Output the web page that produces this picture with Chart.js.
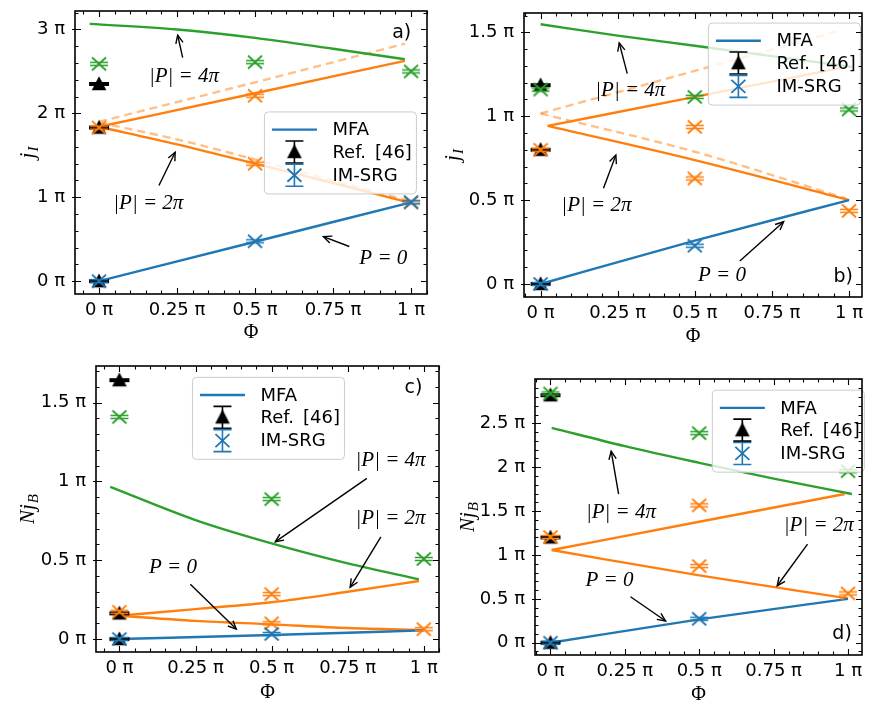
<!DOCTYPE html>
<html><head><meta charset="utf-8">
<script src="https://cdn.jsdelivr.net/npm/chart.js@4.4.0/dist/chart.umd.min.js"></script>
<style>
html,body{margin:0;padding:0;background:#fff;}
#wrap{position:relative;width:873px;height:704px;overflow:hidden;background:#fff;}
canvas{position:absolute;}
</style></head><body>
<div id="wrap">
<canvas id="pa" width="440" height="350" style="left:0px;top:0px"></canvas>
<canvas id="pb" width="433" height="350" style="left:440px;top:0px"></canvas>
<canvas id="pc" width="450" height="354" style="left:0px;top:350px"></canvas>
<canvas id="pd" width="423" height="354" style="left:450px;top:350px"></canvas>
</div>
<script>
// ---------- tick values / labels (units of pi) ----------
const xTickValues=[0,0.25,0.5,0.75,1];
const xTickLabels=['0 π','0.25 π','0.5 π','0.75 π','1 π'];
const aYTickValues=[0,1,2,3];
const aYTickLabels=['0 π','1 π','2 π','3 π'];
const bYTickValues=[0,0.5,1,1.5];
const bYTickLabels=['0 π','0.5 π','1 π','1.5 π'];
const cYTickValues=[0,0.5,1,1.5];
const cYTickLabels=['0 π','0.5 π','1 π','1.5 π'];
const dYTickValues=[0,0.5,1,1.5,2,2.5];
const dYTickLabels=['0 π','0.5 π','1 π','1.5 π','2 π','2.5 π'];
const legendLabels=['MFA','Ref.\u2002[46]','IM-SRG'];

// ---------- panel a: j_I ----------
const aP0X=[0,0.5,1.0], aP0Y=[0,0.47,0.94];
const aP2UpX=[0,0.5,0.98], aP2UpY=[1.84,2.24,2.625];
const aP2DnX=[0,0.25,0.5,0.75,1.0], aP2DnY=[1.84,1.63,1.40,1.17,0.93];
const aP2UpDashX=[0,0.5,0.98], aP2UpDashY=[1.90,2.37,2.83];
const aP2DnDashX=[0,0.25,0.5,0.75,1.0], aP2DnDashY=[1.89,1.69,1.45,1.20,0.95];
const aP4X=[-0.03,0.25,0.5,0.75,0.98], aP4Y=[3.066,3.0,2.90,2.77,2.645];
const aRefX=[0,0,0], aRefY=[2.35,1.83,0];
const aSrgP0X=[0,0.5,1], aSrgP0Y=[0,0.475,0.94];
const aSrgP2X=[0,0.5,0.5,1], aSrgP2Y=[1.83,2.21,1.40,0.94];
const aSrgP4X=[0,0.5,1], aSrgP4Y=[2.59,2.61,2.50];

// ---------- panel b: j_I ----------
const bP0X=[0,0.5,1.0], bP0Y=[0,0.258,0.5];
const bP2UpX=[0.023,0.5,0.98], bP2UpY=[0.942,1.115,1.29];
const bP2DnX=[0.023,0.5,1.0], bP2DnY=[0.942,0.738,0.5];
const bP2UpDashX=[0,0.5,0.976], bP2UpDashY=[1.016,1.27,1.512];
const bP2DnDashX=[0,0.5,0.99], bP2DnDashY=[1.016,0.788,0.51];
const bP4X=[0,0.25,0.5,1.01], bP4Y=[1.548,1.48,1.42,1.293];
const bRefX=[0,0,0], bRefY=[1.185,0.80,0];
const bSrgP0X=[0,0.5], bSrgP0Y=[0,0.228];
const bSrgP2X=[0,0.5,0.5,1], bSrgP2Y=[0.80,0.936,0.629,0.436];
const bSrgP4X=[0,0.5,1], bSrgP4Y=[1.159,1.115,1.04];

// ---------- panel c: N j_B ----------
const cP0X=[0,0.5,1.0], cP0Y=[0,0.025,0.055];
const cP2UpX=[0,0.25,0.5,0.75,0.984], cP2UpY=[0.148,0.19,0.233,0.30,0.368];
const cP2DnX=[0,0.25,0.5,0.75,1.0], cP2DnY=[0.148,0.115,0.093,0.07,0.057];
const cP4X=[-0.03,0.25,0.5,0.75,0.984], cP4Y=[0.966,0.755,0.607,0.48,0.379];
const cRefX=[0,0,0], cRefY=[1.643,0.163,0];
const cSrgP0X=[0,0.5], cSrgP0Y=[0,0.032];
const cSrgP2X=[0,0.5,0.5,1], cSrgP2Y=[0.173,0.285,0.10,0.062];
const cSrgP4X=[0,0.5,1], cSrgP4Y=[1.41,0.888,0.508];

// ---------- panel d: N j_B ----------
const dP0X=[0,0.5,1.0], dP0Y=[0,0.266,0.5];
const dP2UpX=[0.004,0.5,0.989], dP2UpY=[1.056,1.378,1.694];
const dP2DnX=[0.004,0.5,1.0], dP2DnY=[1.056,0.767,0.505];
const dP4X=[0.004,0.25,0.5,0.75,1.013], dP4Y=[2.449,2.24,2.05,1.87,1.694];
const dRefX=[0,0,0], dRefY=[2.82,1.2,0];
const dSrgP0X=[0,0.5], dSrgP0Y=[0,0.273];
const dSrgP2X=[0,0.5,0.5,1], dSrgP2Y=[1.205,1.565,0.873,0.562];
const dSrgP4X=[0,0.5,1], dSrgP4Y=[2.84,2.388,1.955];

// ---------- styles ----------
const C_BLUE='#1f77b4', C_ORANGE='#ff7f0e', C_GREEN='#2ca02c', C_DASH='rgba(255,127,14,0.5)';
const TICK_FONT={family:'DejaVu Sans', size:18};
const SERIF_IT='italic 21px "Liberation Serif", "DejaVu Serif", serif';

function P(xs,ys){return xs.map((x,i)=>({x:x,y:ys[i]}));}

function srgMarker(color){
  const c=document.createElement('canvas'); c.width=24; c.height=24;
  const g=c.getContext('2d'); const m=12;
  g.strokeStyle=color; g.lineWidth=1.8;
  g.beginPath(); g.moveTo(m-7,m-6.5); g.lineTo(m+7,m+6.5); g.moveTo(m+7,m-6.5); g.lineTo(m-7,m+6.5); g.stroke();
  g.lineWidth=1.5; g.beginPath();
  g.moveTo(m-9,m-1.6); g.lineTo(m+9,m-1.6); g.moveTo(m-9,m+1.6); g.lineTo(m+9,m+1.6); g.stroke();
  return c;
}
function refMarker(){
  const c=document.createElement('canvas'); c.width=24; c.height=24;
  const g=c.getContext('2d'); const m=12;
  g.fillStyle='#000';
  g.beginPath(); g.moveTo(m,m-7.7); g.lineTo(m+7.3,m+6.3); g.lineTo(m-7.3,m+6.3); g.closePath(); g.fill();
  g.fillRect(m-10,m-2,20,4);
  return c;
}
function triOnly(){
  const c=document.createElement('canvas'); c.width=24; c.height=24;
  const g=c.getContext('2d'); const m=12;
  g.fillStyle='#000';
  g.beginPath(); g.moveTo(m,m-7.7); g.lineTo(m+7.3,m+6.3); g.lineTo(m-7.3,m+6.3); g.closePath(); g.fill();
  return c;
}
const MK={blue:srgMarker(C_BLUE),orange:srgMarker(C_ORANGE),green:srgMarker(C_GREEN),ref:refMarker(),tri:triOnly()};

function lineDS(xs,ys,color,order,dash){
  return {type:'line',data:P(xs,ys),borderColor:color,borderWidth:2.4,borderDash:dash||[],
    pointRadius:0,pointHoverRadius:0,fill:false,cubicInterpolationMode:'monotone',order:order};
}
function markDS(xs,ys,img,order){
  return {type:'line',data:P(xs,ys),showLine:false,pointStyle:img,pointRadius:10,pointHoverRadius:10,
    borderColor:'rgba(0,0,0,0)',backgroundColor:'rgba(0,0,0,0)',order:order};
}

const panels={
  pa:{cw:440,ch:350,L:75,T:8,R:427,B:294,xMin:-0.077,xMax:1.051,yMin:-0.153,yMax:3.22,
    yTicks:aYTickValues,yLabels:aYTickLabels,yMinor:0.2,ylab:['j','I'],ylabX:-47,xlabY:39,
    tag:{t:'a)',x:0.970,y:2.96}, legend:{x:0.530,y:2.017},
    ann:[{t:'|P| = 4π',tx:0.272,ty:2.44,x1:0.268,y1:2.665,x2:0.252,y2:2.933},
         {t:'|P| = 2π',tx:0.158,ty:0.928,x1:0.192,y1:1.14,x2:0.244,y2:1.537},
         {t:'P = 0',tx:0.911,ty:0.268,x1:0.802,y1:0.413,x2:0.719,y2:0.531}],
    datasets:[
      markDS(aSrgP0X,aSrgP0Y,MK.blue,0), markDS(aSrgP2X,aSrgP2Y,MK.orange,0), markDS(aSrgP4X,aSrgP4Y,MK.green,0),
      markDS(aRefX,aRefY,MK.ref,1),
      lineDS(aP0X,aP0Y,C_BLUE,2), lineDS(aP2UpX,aP2UpY,C_ORANGE,2), lineDS(aP2DnX,aP2DnY,C_ORANGE,2), lineDS(aP4X,aP4Y,C_GREEN,2),
      lineDS(aP2UpDashX,aP2UpDashY,C_DASH,3,[8,5]), lineDS(aP2DnDashX,aP2DnDashY,C_DASH,3,[8,5])
    ]},
  pb:{cw:433,ch:350,L:84,T:13,R:431,B:297,xMin:-0.0537,xMax:1.042,yMin:-0.0775,yMax:1.615,
    yTicks:bYTickValues,yLabels:bYTickLabels,yMinor:0.1,ylab:['j','I'],ylabX:-71,xlabY:40,
    tag:{t:'b)',x:0.981,y:0.043}, legend:{x:0.544,y:1.555},
    ann:[{t:'|P| = 4π',tx:0.291,ty:1.151,x1:0.281,y1:1.254,x2:0.255,y2:1.437},
         {t:'|P| = 2π',tx:0.181,ty:0.466,x1:0.204,y1:0.57,x2:0.244,y2:0.768},
         {t:'P = 0',tx:0.588,ty:0.048,x1:0.646,y1:0.137,x2:0.788,y2:0.371}],
    datasets:[
      markDS(bSrgP0X,bSrgP0Y,MK.blue,0), markDS(bSrgP2X,bSrgP2Y,MK.orange,0), markDS(bSrgP4X,bSrgP4Y,MK.green,0),
      markDS(bRefX,bRefY,MK.ref,1),
      lineDS(bP0X,bP0Y,C_BLUE,2), lineDS(bP2UpX,bP2UpY,C_ORANGE,2), lineDS(bP2DnX,bP2DnY,C_ORANGE,2), lineDS(bP4X,bP4Y,C_GREEN,2),
      lineDS(bP2UpDashX,bP2UpDashY,C_DASH,3,[8,5]), lineDS(bP2DnDashX,bP2DnDashY,C_DASH,3,[8,5])
    ]},
  pc:{cw:450,ch:354,L:96,T:16,R:448,B:302,xMin:-0.0769,xMax:1.050,yMin:-0.0825,yMax:1.733,
    yTicks:cYTickValues,yLabels:cYTickLabels,yMinor:0.1,ylab:['Nj','B'],ylabX:-68,xlabY:41,
    tag:{t:'c)',x:0.966,y:1.591}, legend:{x:0.240,y:1.661},
    ann:[{t:'|P| = 4π',tx:0.891,ty:1.131,x1:0.813,y1:1.02,x2:0.512,y2:0.617},
         {t:'|P| = 2π',tx:0.891,ty:0.766,x1:0.859,y1:0.649,x2:0.758,y2:0.328},
         {t:'P = 0',tx:0.176,ty:0.452,x1:0.233,y1:0.347,x2:0.384,y2:0.063}],
    datasets:[
      markDS(cSrgP0X,cSrgP0Y,MK.blue,0), markDS(cSrgP2X,cSrgP2Y,MK.orange,0), markDS(cSrgP4X,cSrgP4Y,MK.green,0),
      markDS(cRefX,cRefY,MK.ref,1),
      lineDS(cP0X,cP0Y,C_BLUE,2), lineDS(cP2UpX,cP2UpY,C_ORANGE,2), lineDS(cP2DnX,cP2DnY,C_ORANGE,2), lineDS(cP4X,cP4Y,C_GREEN,2)
    ]},
  pd:{cw:423,ch:354,L:85,T:29,R:421,B:305,xMin:-0.052,xMax:1.047,yMin:-0.14,yMax:3.005,
    yTicks:dYTickValues,yLabels:dYTickLabels,yMinor:0.1,ylab:['Nj','B'],ylabX:-67,xlabY:40,
    tag:{t:'d)',x:0.980,y:0.099}, legend:{x:0.544,y:2.878},
    ann:[{t:'|P| = 4π',tx:0.237,ty:1.485,x1:0.229,y1:1.694,x2:0.204,y2:2.183},
         {t:'|P| = 2π',tx:0.902,ty:1.34,x1:0.864,y1:1.124,x2:0.762,y2:0.649},
         {t:'P = 0',tx:0.198,ty:0.714,x1:0.269,y1:0.524,x2:0.387,y2:0.247}],
    datasets:[
      markDS(dSrgP0X,dSrgP0Y,MK.blue,0), markDS(dSrgP2X,dSrgP2Y,MK.orange,0), markDS(dSrgP4X,dSrgP4Y,MK.green,0),
      markDS(dRefX,dRefY,MK.ref,1),
      lineDS(dP0X,dP0Y,C_BLUE,2), lineDS(dP2UpX,dP2UpY,C_ORANGE,2), lineDS(dP2DnX,dP2DnY,C_ORANGE,2), lineDS(dP4X,dP4Y,C_GREEN,2)
    ]}
};

function arrow(ctx,x1,y1,x2,y2){
  ctx.beginPath(); ctx.moveTo(x1,y1); ctx.lineTo(x2,y2); ctx.stroke();
  const ang=Math.atan2(y2-y1,x2-x1), L=9, w=0.42;
  ctx.beginPath();
  ctx.moveTo(x2-L*Math.cos(ang-w),y2-L*Math.sin(ang-w));
  ctx.lineTo(x2,y2);
  ctx.lineTo(x2-L*Math.cos(ang+w),y2-L*Math.sin(ang+w));
  ctx.stroke();
}
function rrect(ctx,x,y,w,h,r){
  ctx.beginPath(); ctx.moveTo(x+r,y); ctx.lineTo(x+w-r,y); ctx.quadraticCurveTo(x+w,y,x+w,y+r);
  ctx.lineTo(x+w,y+h-r); ctx.quadraticCurveTo(x+w,y+h,x+w-r,y+h); ctx.lineTo(x+r,y+h);
  ctx.quadraticCurveTo(x,y+h,x,y+h-r); ctx.lineTo(x,y+r); ctx.quadraticCurveTo(x,y,x+r,y); ctx.closePath();
}
function errHandle(ctx,cx,cy,color){
  ctx.strokeStyle=color; ctx.lineWidth=1.6;
  ctx.beginPath(); ctx.moveTo(cx,cy-11); ctx.lineTo(cx,cy+11);
  ctx.moveTo(cx-9,cy-11); ctx.lineTo(cx+9,cy-11);
  ctx.moveTo(cx-9,cy+11); ctx.lineTo(cx+9,cy+11); ctx.stroke();
}

const panelPlugin={
  id:'panel',
  afterDatasetsDraw(chart){
    const o=panels[chart.canvas.id]; const ctx=chart.ctx;
    const xs=chart.scales.x, ys=chart.scales.y, a=chart.chartArea;
    ctx.save();
    ctx.strokeStyle='#000'; ctx.fillStyle='#000'; ctx.lineWidth=1.4;
    o.ann.forEach(n=>{
      arrow(ctx,xs.getPixelForValue(n.x1),ys.getPixelForValue(n.y1),xs.getPixelForValue(n.x2),ys.getPixelForValue(n.y2));
      ctx.font=SERIF_IT; ctx.textAlign='center'; ctx.textBaseline='middle';
      ctx.fillText(n.t,xs.getPixelForValue(n.tx),ys.getPixelForValue(n.ty));
    });
    ctx.font='19px "DejaVu Sans", sans-serif'; ctx.textAlign='center'; ctx.textBaseline='middle';
    ctx.fillText(o.tag.t,xs.getPixelForValue(o.tag.x),ys.getPixelForValue(o.tag.y));
    const x0=xs.getPixelForValue(o.legend.x), y0=ys.getPixelForValue(o.legend.y), w=152, h=82;
    rrect(ctx,x0,y0,w,h,4); ctx.fillStyle='rgba(255,255,255,0.8)'; ctx.fill();
    ctx.strokeStyle='#cccccc'; ctx.lineWidth=1; ctx.stroke();
    const hx=x0+30, rows=[y0+17.7,y0+40,y0+63.3];
    ctx.strokeStyle=C_BLUE; ctx.lineWidth=2.4;
    ctx.beginPath(); ctx.moveTo(hx-22.5,rows[0]); ctx.lineTo(hx+22.5,rows[0]); ctx.stroke();
    errHandle(ctx,hx,rows[1],'#000'); ctx.drawImage(MK.tri,hx-12,rows[1]-12);
    errHandle(ctx,hx,rows[2],C_BLUE);
    ctx.strokeStyle=C_BLUE; ctx.lineWidth=1.8; ctx.beginPath();
    ctx.moveTo(hx-7,rows[2]-6.5); ctx.lineTo(hx+7,rows[2]+6.5); ctx.moveTo(hx+7,rows[2]-6.5); ctx.lineTo(hx-7,rows[2]+6.5); ctx.stroke();
    ctx.fillStyle='#000'; ctx.font='18px "DejaVu Sans", sans-serif'; ctx.textAlign='left'; ctx.textBaseline='middle';
    legendLabels.forEach((t,i)=>ctx.fillText(t,x0+68,rows[i]+1));
    ctx.restore();
  },
  afterDraw(chart){
    const o=panels[chart.canvas.id]; const ctx=chart.ctx;
    const xs=chart.scales.x, ys=chart.scales.y, a=chart.chartArea;
    ctx.save();
    ctx.strokeStyle='#000'; ctx.lineWidth=1.1;
    const eps=1e-6;
    const isMaj=(v,arr)=>arr.some(t=>Math.abs(t-v)<eps);
    ctx.beginPath();
    for(let k=Math.ceil(xs.min/0.05-eps);k*0.05<=xs.max+eps;k++){
      const v=k*0.05, p=Math.round(xs.getPixelForValue(v))+0.5, L=isMaj(v,xTickValues)?6:3.5;
      ctx.moveTo(p,a.bottom); ctx.lineTo(p,a.bottom-L);
      ctx.moveTo(p,a.top); ctx.lineTo(p,a.top+L);
    }
    for(let k=Math.ceil(ys.min/o.yMinor-eps);k*o.yMinor<=ys.max+eps;k++){
      const v=k*o.yMinor, p=Math.round(ys.getPixelForValue(v))+0.5, maj=isMaj(v,o.yTicks), L=maj?6:3.5;
      ctx.moveTo(a.left-(maj?3:0),p); ctx.lineTo(a.left+L,p);
      ctx.moveTo(a.right,p); ctx.lineTo(a.right-L,p);
    }
    ctx.stroke();
    ctx.lineWidth=1.6; ctx.strokeRect(a.left,a.top,a.right-a.left,a.bottom-a.top);
    ctx.fillStyle='#000';
    ctx.font='20px "Liberation Serif", "DejaVu Serif", serif'; ctx.textAlign='center'; ctx.textBaseline='middle';
    ctx.fillText('Φ',(a.left+a.right)/2,a.bottom+o.xlabY);
    ctx.translate(a.left+o.ylabX,(a.top+a.bottom)/2); ctx.rotate(-Math.PI/2);
    ctx.font=SERIF_IT; const m=ctx.measureText(o.ylab[0]).width;
    ctx.font='italic 15px "Liberation Serif", "DejaVu Serif", serif'; const s=ctx.measureText(o.ylab[1]).width;
    const st=-(m+s+1)/2;
    ctx.textAlign='left'; ctx.textBaseline='alphabetic';
    ctx.font=SERIF_IT; ctx.fillText(o.ylab[0],st,6);
    ctx.font='italic 15px "Liberation Serif", "DejaVu Serif", serif'; ctx.fillText(o.ylab[1],st+m+1,10);
    ctx.restore();
  }
};

function zeroPad(s){s.paddingTop=0;s.paddingBottom=0;s.paddingLeft=0;s.paddingRight=0;}

function build(id){
  const cfg=panels[id];
  return new Chart(document.getElementById(id),{
    type:'line',
    data:{datasets:cfg.datasets},
    options:{
      responsive:false, animation:false, devicePixelRatio:1, events:[],
      layout:{padding:{top:cfg.T,right:cfg.cw-cfg.R,left:0,bottom:0}},
      plugins:{legend:{display:false},tooltip:{enabled:false}},
      scales:{
        x:{type:'linear',bounds:'data',min:cfg.xMin,max:cfg.xMax,
          afterBuildTicks:s=>{s.ticks=xTickValues.map(v=>({value:v}));},
          afterFit:s=>{s.height=cfg.ch-cfg.B; zeroPad(s);},
          grid:{display:false,drawTicks:false}, border:{display:false},
          ticks:{autoSkip:false,maxRotation:0,minRotation:0,padding:6,color:'#000',font:TICK_FONT,
            callback:(v,i)=>xTickLabels[i]}},
        y:{type:'linear',bounds:'data',min:cfg.yMin,max:cfg.yMax,
          afterBuildTicks:s=>{s.ticks=cfg.yTicks.map(v=>({value:v}));},
          afterFit:s=>{s.width=cfg.L; zeroPad(s);},
          grid:{display:false,drawTicks:false}, border:{display:false},
          ticks:{autoSkip:false,padding:10,color:'#000',font:TICK_FONT,
            callback:(v,i)=>cfg.yLabels[i]}}
      }
    },
    plugins:[panelPlugin]
  });
}
['pa','pb','pc','pd'].forEach(build);
</script>
</body></html>
